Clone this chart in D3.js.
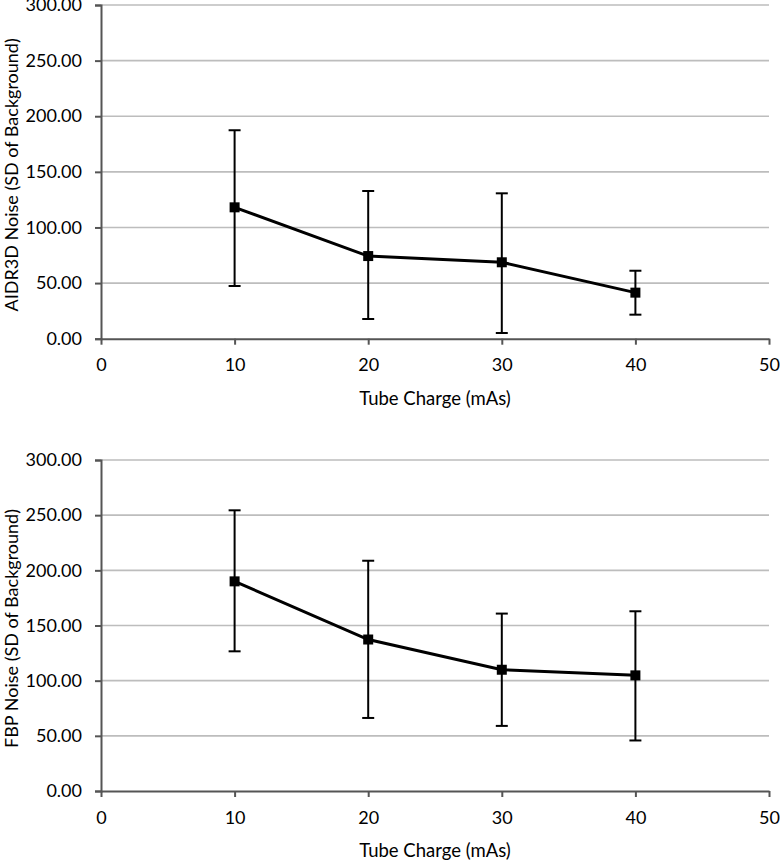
<!DOCTYPE html>
<html><head><meta charset="utf-8">
<script src="https://cdn.jsdelivr.net/npm/d3@7"></script>
<style>body{margin:0;background:#fff}svg{display:block}</style>
</head><body>
<svg id="c" width="780" height="861"></svg>
<script>
const tubeCharge = [10, 20, 30, 40];
const aidrMean = [118.1, 74.3, 68.7, 41.4];
const aidrUpper = [187.4, 132.8, 130.7, 61.1];
const aidrLower = [47.4, 17.7, 5.1, 21.6];
const fbpMean = [190.0, 137.3, 109.9, 104.8];
const fbpUpper = [254.4, 208.7, 160.8, 162.9];
const fbpLower = [126.6, 66.2, 59.0, 45.8];
const yTicks = [0, 50, 100, 150, 200, 250, 300];
const xTicks = [0, 10, 20, 30, 40, 50];
const xTitle = "Tube Charge (mAs)";

const svg = d3.select("#c");
const font = "Lato, 'Open Sans', sans-serif";

function panel(top, bottom, yTitle, mean, upper, lower) {
  const x = d3.scaleLinear().domain([0, 50]).range([101, 769]);
  const y = d3.scaleLinear().domain([0, 300]).range([bottom, top]);
  const g = svg.append("g");
  // gridlines
  g.selectAll("line.grid").data(yTicks.filter(d => d > 0)).join("line")
    .attr("x1", x(0)).attr("x2", x(50))
    .attr("y1", d => y(d)).attr("y2", d => y(d))
    .attr("stroke", "#bdbdbd").attr("stroke-width", 1.6);
  // y axis
  const ya = g.append("g").attr("transform", `translate(${x(0)},0)`)
    .call(d3.axisLeft(y).tickValues(yTicks).tickFormat(d3.format(".2f")).tickSize(6).tickPadding(13));
  ya.select(".domain").attr("stroke", "#555").attr("stroke-width", 2);
  ya.selectAll(".tick line").attr("stroke", "#555").attr("stroke-width", 2);
  ya.selectAll("text").attr("font-family", font).attr("font-size", 18).attr("fill", "#000");
  // x axis
  const xa = g.append("g").attr("transform", `translate(0,${y(0)})`)
    .call(d3.axisBottom(x).tickValues(xTicks).tickSize(6).tickPadding(14).tickSizeOuter(0));
  xa.select(".domain").attr("stroke", "#555").attr("stroke-width", 2);
  xa.selectAll(".tick line").attr("stroke", "#555").attr("stroke-width", 2);
  xa.selectAll("text").attr("font-family", font).attr("font-size", 18).attr("fill", "#000");
  // titles
  g.append("text").attr("x", (x(0) + x(50)) / 2).attr("y", y(0) + 66)
    .attr("text-anchor", "middle").attr("font-family", font).attr("font-size", 18.5).text(xTitle);
  g.append("text").attr("transform", `translate(18,${(top + bottom) / 2 + 3}) rotate(-90)`)
    .attr("text-anchor", "middle").attr("font-family", font).attr("font-size", 18).text(yTitle);
  // error bars
  const eb = g.selectAll("g.eb").data(tubeCharge).join("g");
  eb.append("line").attr("x1", d => x(d)).attr("x2", d => x(d))
    .attr("y1", (d, i) => y(upper[i])).attr("y2", (d, i) => y(lower[i]))
    .attr("stroke", "#000").attr("stroke-width", 2);
  eb.append("line").attr("x1", d => x(d) - 6).attr("x2", d => x(d) + 6)
    .attr("y1", (d, i) => y(upper[i])).attr("y2", (d, i) => y(upper[i]))
    .attr("stroke", "#000").attr("stroke-width", 2);
  eb.append("line").attr("x1", d => x(d) - 6).attr("x2", d => x(d) + 6)
    .attr("y1", (d, i) => y(lower[i])).attr("y2", (d, i) => y(lower[i]))
    .attr("stroke", "#000").attr("stroke-width", 2);
  // line
  g.append("path").datum(tubeCharge)
    .attr("d", d3.line().x(d => x(d)).y((d, i) => y(mean[i])))
    .attr("fill", "none").attr("stroke", "#000").attr("stroke-width", 3);
  // markers
  g.selectAll("rect.m").data(tubeCharge).join("rect")
    .attr("x", d => x(d) - 5).attr("y", (d, i) => y(mean[i]) - 5)
    .attr("width", 10).attr("height", 10).attr("fill", "#000");
}

panel(5, 338.7, "AIDR3D Noise (SD of Background)", aidrMean, aidrUpper, aidrLower);
panel(460, 791, "FBP Noise (SD of Background)", fbpMean, fbpUpper, fbpLower);
</script>
</body></html>
